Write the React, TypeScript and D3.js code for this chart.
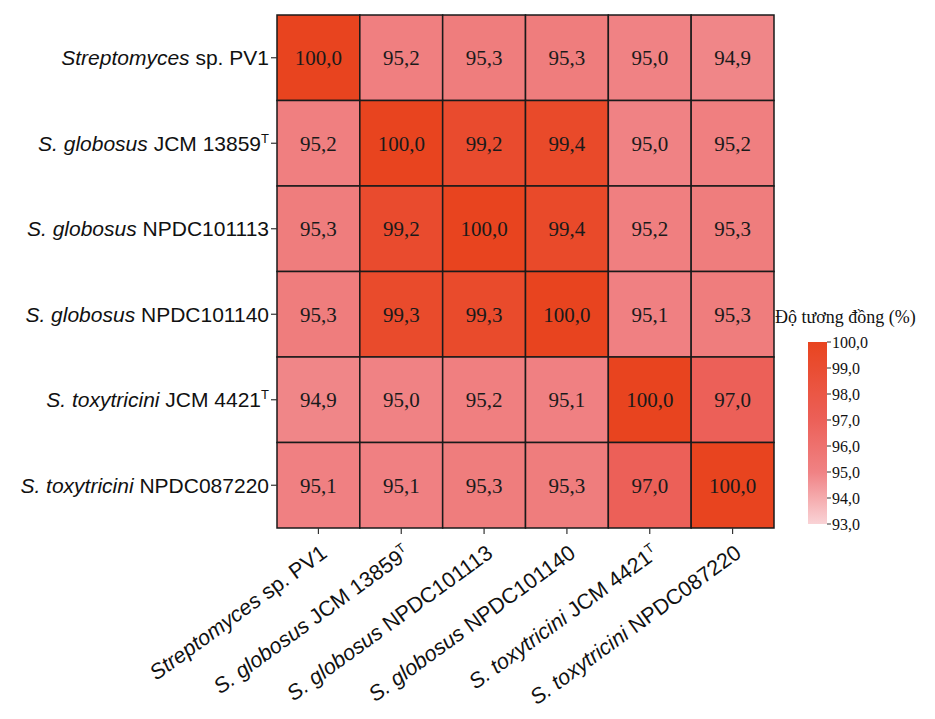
import React from "react";
import * as d3 from "d3";

const strains = [
  { name: "Streptomyces", rest: " sp. PV1", sup: "" },
  { name: "S. globosus", rest: " JCM 13859", sup: "T" },
  { name: "S. globosus", rest: " NPDC101113", sup: "" },
  { name: "S. globosus", rest: " NPDC101140", sup: "" },
  { name: "S. toxytricini", rest: " JCM 4421", sup: "T" },
  { name: "S. toxytricini", rest: " NPDC087220", sup: "" },
];

const identity = [
  [100.0, 95.2, 95.3, 95.3, 95.0, 94.9],
  [95.2, 100.0, 99.2, 99.4, 95.0, 95.2],
  [95.3, 99.2, 100.0, 99.4, 95.2, 95.3],
  [95.3, 99.3, 99.3, 100.0, 95.1, 95.3],
  [94.9, 95.0, 95.2, 95.1, 100.0, 97.0],
  [95.1, 95.1, 95.3, 95.3, 97.0, 100.0],
];

const legendTicks = [93, 94, 95, 96, 97, 98, 99, 100];
const colorStops = [93, 95, 97, 100];
const colorRange = ["#f9d3d6", "#f08284", "#ec6058", "#e8441f"];

const W = 935;
const H = 719;
const margin = { left: 277, top: 15, right: 161, bottom: 191 };

const fmt = (v: number) => d3.format(".1f")(v).replace(".", ",");

export default function App() {
  const idx = d3.range(strains.length);
  const x = d3.scaleBand<number>().domain(idx).range([margin.left, W - margin.right]);
  const y = d3.scaleBand<number>().domain(idx).range([margin.top, H - margin.bottom]);
  const color = d3.scaleLinear<string>().domain(colorStops).range(colorRange).clamp(true);
  const legY = d3.scaleLinear().domain([93, 100]).range([524, 342]);
  const legX = 808;
  const legW = 19;

  const sans = "Liberation Sans, Arial, sans-serif";
  const serif = "Liberation Serif, Times New Roman, serif";

  const label = (s: typeof strains[number]) => (
    <>
      <tspan fontStyle="italic">{s.name}</tspan>
      <tspan>{s.rest}</tspan>
      {s.sup && (
        <tspan fontSize={13} dy={-8}>
          {s.sup}
        </tspan>
      )}
    </>
  );

  return (
    <svg
      width={W}
      height={H}
      style={{ position: "absolute", left: 0, top: 0, background: "#fff" }}
    >
      <defs>
        <linearGradient id="leg" x1="0" y1="1" x2="0" y2="0">
          {d3.range(93, 100.01, 0.5).map((v) => (
            <stop key={v} offset={(v - 93) / 7} stopColor={color(v)} />
          ))}
        </linearGradient>
      </defs>

      {/* cells */}
      {identity.map((row, i) =>
        row.map((v, j) => (
          <g key={`${i}-${j}`}>
            <rect
              x={x(j)}
              y={y(i)}
              width={x.bandwidth()}
              height={y.bandwidth()}
              fill={color(v)}
              stroke="#1a1a1a"
              strokeWidth={1.5}
            />
            <text
              x={x(j)! + x.bandwidth() / 2}
              y={y(i)! + y.bandwidth() / 2}
              dy="0.35em"
              textAnchor="middle"
              fontFamily={serif}
              fontSize={21}
              fill="#1a1a1a"
            >
              {fmt(v)}
            </text>
          </g>
        ))
      )}

      {/* row labels */}
      {strains.map((s, i) => {
        const cy = y(i)! + y.bandwidth() / 2;
        return (
          <g key={`r${i}`}>
            <line x1={margin.left - 6} x2={margin.left} y1={cy} y2={cy} stroke="#333" strokeWidth={1.2} />
            <text
              x={margin.left - 8}
              y={cy}
              dy="0.35em"
              textAnchor="end"
              fontFamily={sans}
              fontSize={21}
              fill="#111"
            >
              {label(s)}
            </text>
          </g>
        );
      })}

      {/* column labels */}
      {strains.map((s, j) => {
        const cx = x(j)! + x.bandwidth() / 2;
        const by = H - margin.bottom;
        return (
          <g key={`c${j}`}>
            <line x1={cx} x2={cx} y1={by} y2={by + 6} stroke="#333" strokeWidth={1.2} />
            <text
              transform={`translate(${cx + 10},${by + 28}) rotate(-36)`}
              textAnchor="end"
              fontFamily={sans}
              fontSize={21.5}
              fill="#111"
            >
              {label(s)}
            </text>
          </g>
        );
      })}

      {/* legend */}
      <text x={775} y={323} fontFamily={serif} fontSize={18} fill="#111">
        Độ tương đồng (%)
      </text>
      <rect x={legX} y={legY(100)} width={legW} height={legY(93) - legY(100)} fill="url(#leg)" />
      {legendTicks.map((t) => (
        <g key={t}>
          <line
            x1={legX + legW}
            x2={legX + legW + 4}
            y1={legY(t)}
            y2={legY(t)}
            stroke="#333"
            strokeWidth={1}
          />
          <text
            x={legX + legW + 5}
            y={legY(t)}
            dy="0.35em"
            fontFamily={serif}
            fontSize={16}
            fill="#111"
          >
            {fmt(t)}
          </text>
        </g>
      ))}
    </svg>
  );
}
